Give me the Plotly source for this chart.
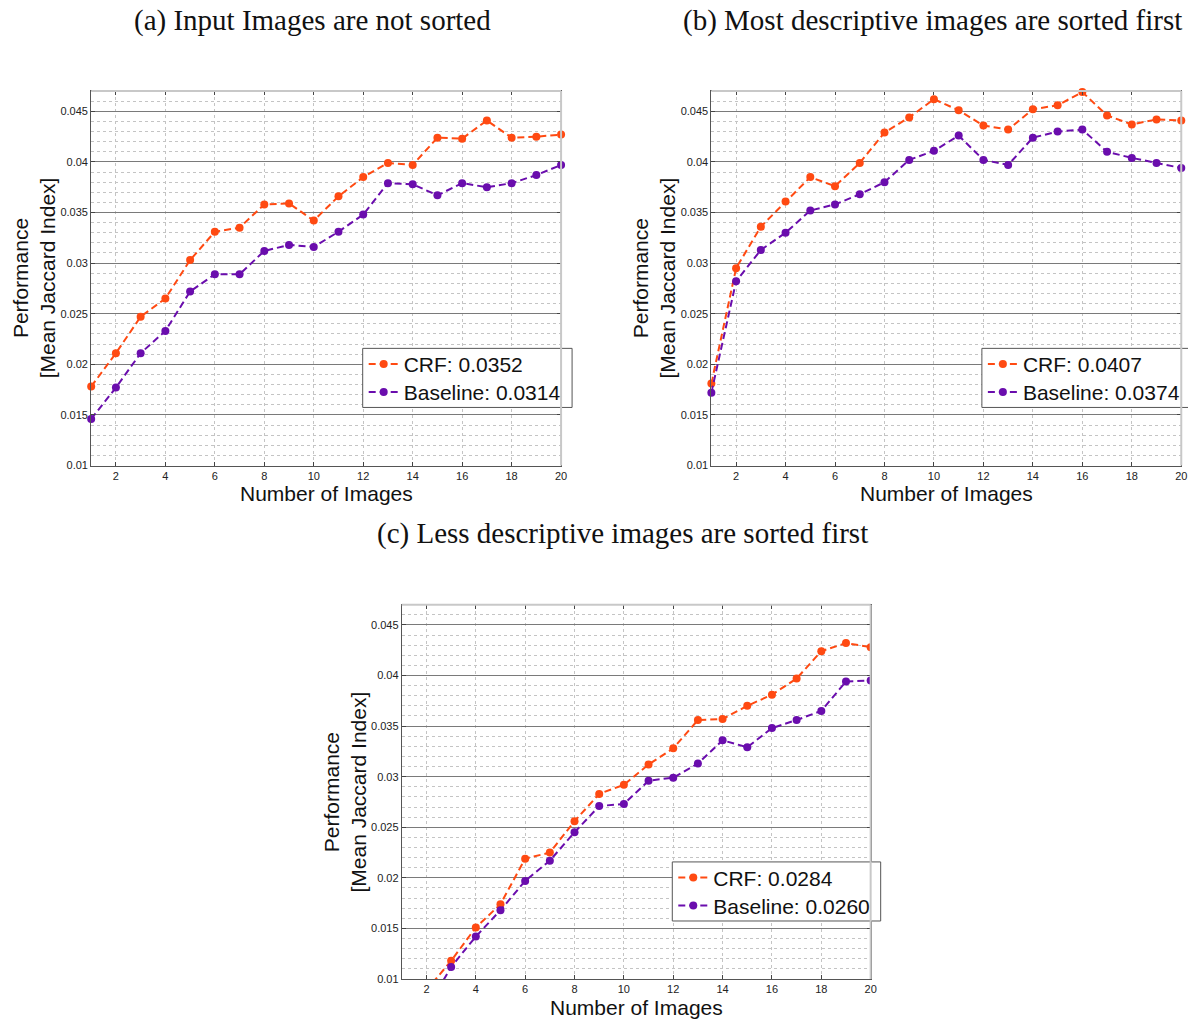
import plotly.graph_objects as go

W, H = 1188, 1020
S = 1.007  # compensation for the slight downscale of the rendered page

x_images = list(range(1, 21))

crf_a = [0.0178, 0.0211, 0.0247, 0.0265, 0.0303, 0.0331, 0.0335, 0.0358, 0.0359, 0.0342,
         0.0366, 0.0385, 0.0399, 0.0397, 0.0424, 0.0423, 0.0441, 0.0424, 0.0425, 0.0427]
base_a = [0.0146, 0.0177, 0.0211, 0.0233, 0.0272, 0.0289, 0.0289, 0.0312, 0.0318, 0.0316,
          0.0331, 0.0348, 0.0379, 0.0378, 0.0367, 0.0379, 0.0375, 0.0379, 0.0387, 0.0397]

crf_b = [0.0181, 0.0295, 0.0336, 0.0361, 0.0385, 0.0376, 0.0399, 0.0429, 0.0444, 0.0462,
         0.0451, 0.0436, 0.0432, 0.0452, 0.0456, 0.0469, 0.0446, 0.0437, 0.0442, 0.0441]
base_b = [0.0172, 0.0282, 0.0313, 0.0330, 0.0352, 0.0358, 0.0368, 0.0380, 0.0402, 0.0411,
          0.0426, 0.0402, 0.0397, 0.0424, 0.0430, 0.0432, 0.0410, 0.0404, 0.0399, 0.0394]

crf_c = [0.0065, 0.0089, 0.0118, 0.0151, 0.0174, 0.0219, 0.0225, 0.0256, 0.0283, 0.0292,
         0.0312, 0.0328, 0.0356, 0.0357, 0.0370, 0.0381, 0.0397, 0.0424, 0.0432, 0.0428]
base_c = [0.0050, 0.0070, 0.0112, 0.0142, 0.0168, 0.0197, 0.0217, 0.0245, 0.0271, 0.0273,
          0.0296, 0.0299, 0.0313, 0.0336, 0.0329, 0.0348, 0.0356, 0.0365, 0.0394, 0.0395]

legend_labels = {
    "a": ("CRF: 0.0352", "Baseline: 0.0314"),
    "b": ("CRF: 0.0407", "Baseline: 0.0374"),
    "c": ("CRF: 0.0284", "Baseline: 0.0260"),
}
panel_titles = ["(a) Input Images are not sorted",
                "(b) Most descriptive images are sorted first",
                "(c) Less descriptive images are sorted first"]
x_title = "Number of Images"
y_title = "Performance<br>[Mean Jaccard Index]"

y_tickvals = [0.01, 0.015, 0.02, 0.025, 0.03, 0.035, 0.04, 0.045]
y_ticktext = ["0.01", "0.015", "0.02", "0.025", "0.03", "0.035", "0.04", "0.045"]
x_tickvals = [2, 4, 6, 8, 10, 12, 14, 16, 18, 20]

CRF_COLOR = "#FF4A12"
BASE_COLOR = "#6A0DAD"
SANS = "Liberation Sans, Arial, sans-serif"
SERIF = "Liberation Serif, Times New Roman, serif"


def px(x):
    return x * S / W


def py(y):
    return 1 - y * S / H


# panel pixel boxes: (left, right, top, bottom)
boxes = {
    "a": (91, 560, 91, 465),
    "b": (710, 1179, 91, 465),
    "c": (401, 869, 604, 978),
}
# legend boxes (left, right, top, bottom) and row centres
leg_boxes = {
    "a": (362, 571, 348, 407, 364, 392),
    "b": (980, 1200, 348, 407, 364, 392),
    "c": (671, 879, 861, 920, 877, 905),
}

fig = go.Figure()

panels = [("a", "", crf_a, base_a, ("legend", "legend2")),
          ("b", "2", crf_b, base_b, ("legend3", "legend4")),
          ("c", "3", crf_c, base_c, ("legend5", "legend6"))]

layout = dict(
    width=W, height=H,
    margin=dict(l=0, r=0, t=0, b=0),
    paper_bgcolor="white", plot_bgcolor="white",
    font=dict(family=SANS, color="#222"),
    showlegend=True,
)

shapes = []
annotations = []

for key, sfx, crf, base, legs in panels:
    noclip = key != "c"
    ll, lr, lt, lb, r1, r2 = leg_boxes[key]
    shapes.append(dict(type="rect", xref="paper", yref="paper",
                       x0=px(ll), x1=px(lr), y0=py(lb), y1=py(lt),
                       fillcolor="white", line=dict(color="#555", width=1),
                       layer="above"))
    for name, ys, col, leg, row in ((legend_labels[key][0], crf, CRF_COLOR, legs[0], r1),
                                    (legend_labels[key][1], base, BASE_COLOR, legs[1], r2)):
        fig.add_trace(go.Scatter(
            x=x_images, y=ys, name=name, mode="lines+markers",
            line=dict(color=col, width=2, dash="7px,4px"),
            marker=dict(color=col, size=8, symbol="circle"),
            xaxis="x" + sfx, yaxis="y" + sfx, legend=leg,
            cliponaxis=not noclip,
        ))
        layout[leg] = dict(
            x=px(ll + 1), y=py(row), xanchor="left", yanchor="middle",
            xref="paper", yref="paper",
            bgcolor="rgba(0,0,0,0)", borderwidth=0,
            font=dict(family=SANS, size=21, color="#111"),
            itemwidth=30,
        )

for key, sfx, *_ in panels:
    l, r, t, b = boxes[key]
    xa = "xaxis" + sfx
    ya = "yaxis" + sfx
    layout[xa] = dict(
        domain=[px(l), px(r)], range=[1, 20], anchor="y" + sfx,
        tickvals=x_tickvals, ticks="inside", ticklen=4, tickcolor="#444",
        showline=True, linecolor="#555", linewidth=1, mirror="ticks",
        showgrid=True, gridcolor="#c4c4c4", griddash="dot", gridwidth=1,
        zeroline=False, tickfont=dict(size=11, color="#222", family=SANS),
    )
    layout[ya] = dict(
        domain=[py(b), py(t)], range=[0.01, 0.047], anchor="x" + sfx,
        tickvals=y_tickvals, ticktext=y_ticktext, ticks="inside", ticklen=4,
        tickcolor="#444",
        showline=True, linecolor="#555", linewidth=1, mirror="ticks",
        showgrid=True, gridcolor="#7a7a7a", gridwidth=1,
        minor=dict(dtick=0.001, tick0=0.01, showgrid=True, gridcolor="#c4c4c4",
                   griddash="dot", gridwidth=1),
        zeroline=False, tickfont=dict(size=11, color="#222", family=SANS),
    )
    xref = "x" + sfx + " domain"
    yref = "y" + sfx + " domain"
    shapes.append(dict(type="line", xref=xref, yref=yref, x0=0, x1=1, y0=1, y1=1,
                       line=dict(color="#c8c8c8", width=2), layer="above"))
    shapes.append(dict(type="line", xref=xref, yref=yref, x0=1, x1=1, y0=0, y1=1,
                       line=dict(color="#c8c8c8", width=2), layer="above"))
    annotations.append(dict(
        text=x_title, xref="paper", yref="paper",
        x=px((l + r) / 2), y=py(b + 28),
        xanchor="center", yanchor="middle", showarrow=False,
        font=dict(family=SANS, size=21, color="#111")))
    annotations.append(dict(
        text=y_title, xref="paper", yref="paper",
        x=px(l - 57), y=py((t + b) / 2), textangle=-90,
        xanchor="center", yanchor="middle", showarrow=False,
        font=dict(family=SANS, size=21, color="#111")))

title_pos = [(312, 20), (931, 20), (621, 533)]
for txt, (tx, ty) in zip(panel_titles, title_pos):
    annotations.append(dict(
        text=txt, xref="paper", yref="paper", x=px(tx), y=py(ty),
        xanchor="center", yanchor="middle", showarrow=False,
        font=dict(family=SERIF, size=29, color="#111")))

layout["shapes"] = shapes
layout["annotations"] = annotations
fig.update_layout(**layout)

fig.write_html("out.html")
